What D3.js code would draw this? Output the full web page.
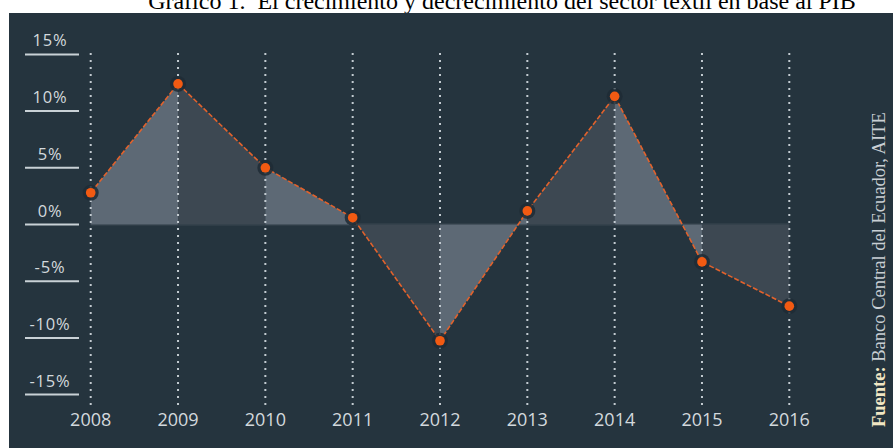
<!DOCTYPE html>
<html>
<head>
<meta charset="utf-8">
<script src="https://cdn.jsdelivr.net/npm/d3@7"></script>
<style>
  body { margin:0; background:#fff; }
  svg { display:block; }
</style>
</head>
<body>
<div id="grafico"></div>
<script>
// datos
var years = [2008, 2009, 2010, 2011, 2012, 2013, 2014, 2015, 2016];
var valores = [2.8, 12.4, 5.0, 0.6, -10.25, 1.2, 11.3, -3.3, -7.2];
var ticksY = [15, 10, 5, 0, -5, -10, -15];
var titulo = "Gráfico 1.  El crecimiento y decrecimiento del sector textil en base al PIB";
var fuente = "Banco Central del Ecuador, AITE";

var width = 893, height = 448;

var svg = d3.select('#grafico')
    .append('svg')
        .attr('width', width)
        .attr('height', height);

svg.append('text')
    .attr('x', 502)
    .attr('y', 9)
    .attr('text-anchor', 'middle')
    .attr('font-family', 'Liberation Serif, Times New Roman, serif')
    .attr('font-size', 24)
    .attr('fill', '#000')
    .style('white-space', 'pre')
    .text(titulo);

// panel oscuro
svg.append('rect')
    .attr('x', 9).attr('y', 13)
    .attr('width', width - 9).attr('height', height - 13)
    .attr('fill', '#25343e');

var x = d3.scaleLinear()
    .domain([2008, 2016])
    .range([90.7, 789.3]);

var y = d3.scaleLinear()
    .domain([-15, 15])
    .range([394.6, 54.4]);

// eje y: etiquetas con subrayado
var ejeY = svg.append('g');
var tick = ejeY.selectAll('g')
    .data(ticksY)
    .enter()
    .append('g')
    .attr('transform', function (d) { return 'translate(0,' + y(d) + ')'; });

tick.append('line')
    .attr('x1', 25).attr('x2', 79)
    .attr('stroke', '#c9d1d6')
    .attr('stroke-width', 2);

tick.append('text')
    .attr('x', 50)
    .attr('y', -8)
    .attr('text-anchor', 'middle')
    .attr('font-family', 'Open Sans, sans-serif')
    .attr('font-size', 16.5)
    .attr('letter-spacing', 0.8)
    .attr('fill', '#d3d9dd')
    .text(function (d) { return d + '%'; });

// lineas verticales punteadas
svg.selectAll('.guia')
    .data(years)
    .enter()
    .append('line')
    .attr('class', 'guia')
    .attr('x1', d => x(d)).attr('x2', d => x(d))
    .attr('y1', 53).attr('y2', 407)
    .attr('stroke', '#c3cbd1')
    .attr('stroke-width', 2)
    .attr('stroke-dasharray', '2,5');

// linea base en cero
svg.append('line')
    .attr('x1', x(2008)).attr('x2', x(2016))
    .attr('y1', y(0)).attr('y2', y(0))
    .attr('stroke', '#2f3d47')
    .attr('stroke-width', 3);

// areas por tramo, alternando tonos
var tramos = d3.range(0, years.length - 1);
var area = d3.area()
    .x(d => x(d[0]))
    .y0(y(0))
    .y1(d => y(d[1]));

svg.selectAll('.tramo')
    .data(tramos)
    .enter()
    .append('path')
    .attr('class', 'tramo')
    .attr('d', i => area([[years[i], valores[i]], [years[i + 1], valores[i + 1]]]))
    .attr('fill', i => i % 2 == 0 ? '#5d6975' : '#3d4852');

// redibujar guias encima del area
svg.selectAll('.guia').raise();

var linea = d3.line()
    .x((d, i) => x(years[i]))
    .y(d => y(d));

svg.append('path')
    .datum(valores)
    .attr('d', linea)
    .attr('fill', 'none')
    .attr('stroke', '#e2622c')
    .attr('stroke-width', 1.6)
    .attr('stroke-dasharray', '5,2');

var puntos = svg.selectAll('.punto')
    .data(valores)
    .enter()
    .append('g')
    .attr('class', 'punto')
    .attr('transform', (d, i) => 'translate(' + x(years[i]) + ',' + y(d) + ')');

puntos.append('circle')
    .attr('r', 8)
    .attr('fill', '#1f2c35')
    .attr('opacity', 0.85);

puntos.append('circle')
    .attr('r', 4.8)
    .attr('fill', '#f25a12');

// eje x
svg.selectAll('.anio')
    .data(years)
    .enter()
    .append('text')
    .attr('class', 'anio')
    .attr('x', d => x(d))
    .attr('y', 426)
    .attr('text-anchor', 'middle')
    .attr('font-family', 'Open Sans, sans-serif')
    .attr('font-size', 18)
    .attr('fill', '#d3d9dd')
    .text(d => d);

// fuente
var f = svg.append('text')
    .attr('transform', 'translate(885,427) rotate(-90)')
    .attr('font-family', 'Liberation Serif, Times New Roman, serif')
    .attr('font-size', 18.5);
f.append('tspan')
    .attr('font-weight', 'bold')
    .attr('fill', '#f1e6c3')
    .text('Fuente: ');
f.append('tspan')
    .attr('fill', '#c9cfd4')
    .text(fuente);
</script>
</body>
</html>
